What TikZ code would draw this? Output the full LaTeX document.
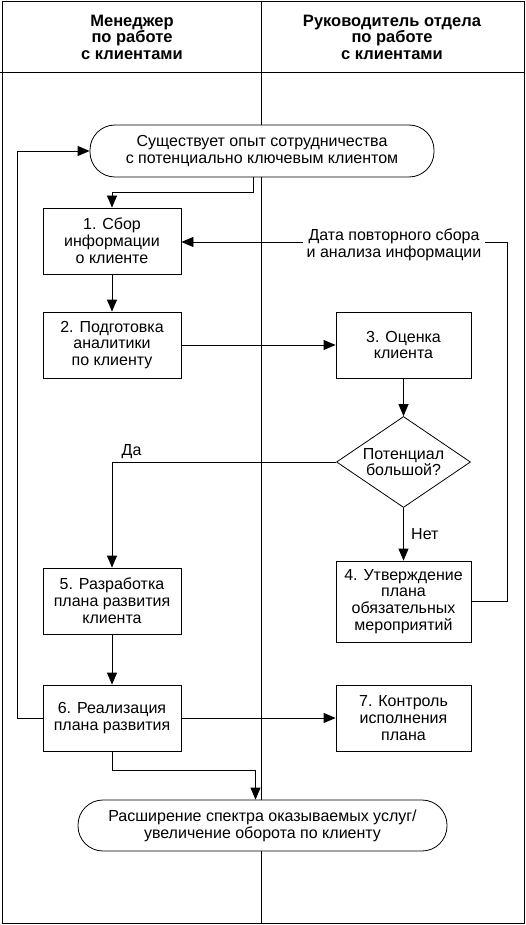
\documentclass[tikz,border=0pt]{standalone}
\usepackage{fontspec}
\setmainfont{Liberation Sans}
\usetikzlibrary{arrows.meta,shapes.geometric}
\tikzset{
  txt/.style={align=center,font=\fontsize{16}{16.8}\selectfont},
  box/.style={txt,draw,fill=white,line width=0.8pt,minimum width=138pt,minimum height=66pt,inner sep=1pt},
  term/.style={txt,draw,fill=white,line width=0.8pt,rounded corners=25pt},
  flow/.style={line width=0.8pt,-{Triangle[length=12pt,width=10pt]}},
  lane/.style={line width=0.8pt}
}
\begin{document}
\begin{tikzpicture}[x=1pt,y=-1pt]
  \useasboundingbox (0,0) rectangle (526,925);
  \draw[lane] (2,1) rectangle (524,923);
  \draw[lane] (0,72) -- (524,72);
  \draw[lane] (261,1) -- (261,923);
  \node[txt,font=\fontsize{16.5}{16.5}\selectfont\bfseries] (mgr) at (132,37) {Менеджер\\по работе\\с клиентами};
  \node[txt,font=\fontsize{16.5}{16.5}\selectfont\bfseries] (head) at (392,37) {Руководитель отдела\\по работе\\с клиентами};
  \node[term,minimum width=344pt,minimum height=52pt] (start) at (262,151) {Существует опыт сотрудничества\\с потенциально ключевым клиентом};
  \node[box] (box1) at (112,241) {1. Сбор\\информации\\о клиенте};
  \node[txt] (note) at (394,245) {Дата повторного сбора\\и анализа информации};
  \node[box] (box2) at (112,345) {2. Подготовка\\аналитики\\по клиенту};
  \node[box,minimum width=135pt] (box3) at (403.5,345) {3. Оценка\\клиента};
  \node[draw,fill=white,line width=0.8pt,shape=diamond,aspect=1.47,inner sep=0pt,minimum width=134pt,minimum height=91pt] (choice) at (403.5,462) {};
  \node[txt] (ask) at (choice) {Потенциал\\большой?};
  \node[box,minimum width=135pt,minimum height=81pt] (box4) at (403.5,601.5) {4. Утверждение\\плана\\обязательных\\мероприятий};
  \node[box] (box5) at (112,601) {5. Разработка\\плана развития\\клиента};
  \node[box] (box6) at (112,718) {6. Реализация\\плана развития};
  \node[box,minimum width=135pt] (box7) at (403.5,718) {7. Контроль\\исполнения\\плана};
  \node[term,minimum width=369pt,minimum height=51pt] (finish) at (262.5,825.5) {Расширение спектра оказываемых услуг/\\увеличение оборота по клиенту};
  \coordinate (lf) at (17,0);
  \coordinate (rt) at (507,242);
  \draw[flow] ([xshift=-9pt]start.south) -- ++(0,15) -| (box1.north);
  \draw[flow] (note.west |- rt) -- (box1.east |- rt);
  \draw[lane] (box4.east) -| (rt) -- (note.east |- rt);
  \draw[flow] (box1) -- (box2);
  \draw[flow] (box2) -- (box3);
  \draw[flow] (box3) -- (choice);
  \draw[flow] (choice.west) -| (box5.north) node[pos=0.5,anchor=south west,xshift=6pt,txt] {Да};
  \draw[flow] (choice.south) -- (box4.north) node[midway,right,xshift=4pt,txt] {Нет};
  \draw[flow] (box5) -- (box6);
  \draw[flow] (box6) -- (box7);
  \draw[flow] (box6.west) -- (box6.west -| lf) |- (start.west);
  \draw[flow] (box6.south) -- ++(0,19) -| ([xshift=-7pt]finish.north);
\end{tikzpicture}
\end{document}
